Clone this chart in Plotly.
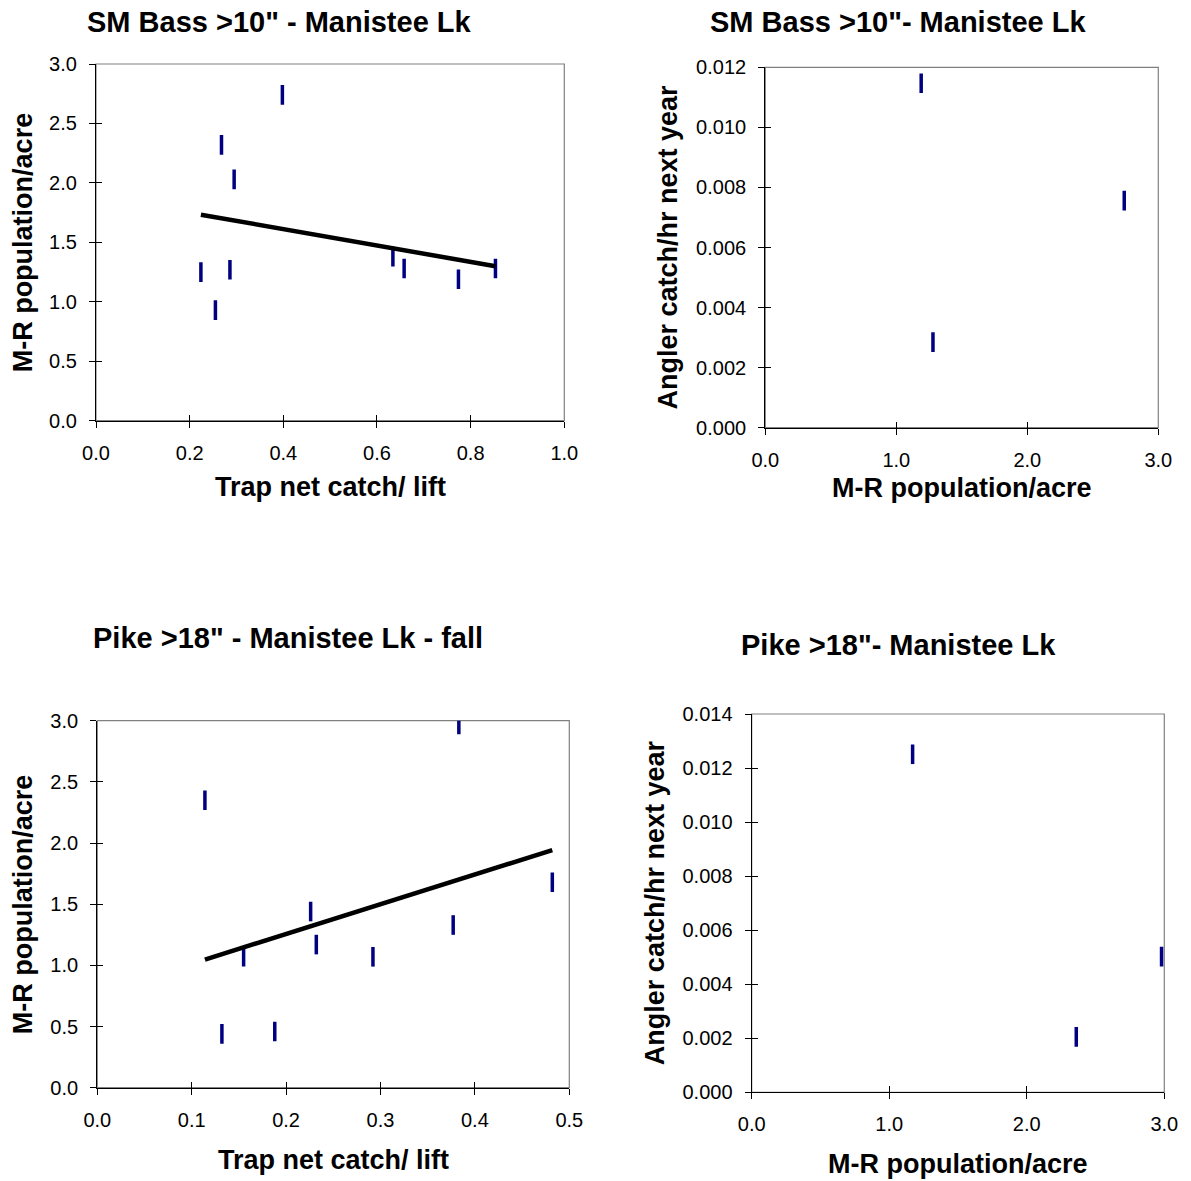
import numpy as np
import plotly.graph_objects as go

# ---- data ----------------------------------------------------------------
# Smallmouth bass >10": trap net catch per lift vs mark-recapture population
bass_trap_catch = [0.398, 0.268, 0.295, 0.224, 0.286, 0.255, 0.634, 0.658, 0.774, 0.853]
bass_pop_acre = [2.74, 2.32, 2.03, 1.25, 1.27, 0.93, 1.38, 1.28, 1.19, 1.28]

# Smallmouth bass >10": population vs angler catch rate the following year
bass_pop_next = [1.19, 1.28, 2.74]
bass_angler_next = [0.01147, 0.00285, 0.00756]

# Pike >18" (fall): trap net catch per lift vs mark-recapture population
pike_trap_catch = [0.383, 0.114, 0.482, 0.226, 0.377, 0.232, 0.155, 0.292, 0.132, 0.188]
pike_pop_acre = [2.97, 2.35, 1.68, 1.44, 1.33, 1.17, 1.07, 1.07, 0.44, 0.46]

# Pike >18": population vs angler catch rate the following year
pike_pop_next = [1.17, 2.36, 2.98]
pike_angler_next = [0.01251, 0.00205, 0.00502]

titles = [
    'SM Bass >10" - Manistee Lk',
    'SM Bass >10"- Manistee Lk',
    'Pike >18" - Manistee Lk - fall',
    'Pike >18"- Manistee Lk',
]
x_titles = ["Trap net catch/ lift", "M-R population/acre",
            "Trap net catch/ lift", "M-R population/acre"]
y_titles = ["M-R population/acre", "Angler catch/hr next year",
            "M-R population/acre", "Angler catch/hr next year"]

# ---- page geometry (pixels) ----------------------------------------------
W, H = 1191, 1181
FONT = "Liberation Sans, Arial, Helvetica, sans-serif"
NAVY = "#000080"

# plot-area boxes: left, right, top, bottom
boxes = [
    (96.0, 564.3, 64.0, 420.7),
    (765.3, 1158.3, 67.3, 427.7),
    (97.3, 569.3, 720.7, 1087.7),
    (751.7, 1164.3, 714.0, 1092.3),
]
axis_specs = [
    # x range, x dtick, x format, y range, y dtick, y format
    ([0, 1.0], 0.2, ".1f", [0, 3.0], 0.5, ".1f"),
    ([0, 3.0], 1.0, ".1f", [0, 0.012], 0.002, ".3f"),
    ([0, 0.5], 0.1, ".1f", [0, 3.0], 0.5, ".1f"),
    ([0, 3.0], 1.0, ".1f", [0, 0.014], 0.002, ".3f"),
]
title_pos = [(279, 22), (898, 22), (288, 638), (898, 645)]
xtitle_y = [487, 488, 1160, 1164]
ytitle_x = [23, 668, 23, 655]

panels = [
    (bass_trap_catch, bass_pop_acre, True),
    (bass_pop_next, bass_angler_next, False),
    (pike_trap_catch, pike_pop_acre, True),
    (pike_pop_next, pike_angler_next, False),
]


def px_x(v):
    return v / W


def px_y(v):
    return 1 - v / H


fig = go.Figure()
layout = {}
annotations = []
shapes = []

for i, ((xs, ys, trend), box, spec) in enumerate(zip(panels, boxes, axis_specs)):
    n = i + 1
    m = i + 5  # overlay axes carrying the inside half of each tick
    xa = "x" if n == 1 else f"x{n}"
    ya = "y" if n == 1 else f"y{n}"
    left, right, top, bottom = box
    xr, xdt, xfmt, yr, ydt, yfmt = spec

    common = dict(showgrid=False, zeroline=False, fixedrange=True,
                  automargin=False, tick0=0, tickcolor="black",
                  tickwidth=1.3, ticklen=6)
    layout[f"xaxis{n}"] = dict(
        domain=[px_x(left), px_x(right)], range=xr, dtick=xdt, tickformat=xfmt,
        anchor=ya, showline=True, linecolor="black", linewidth=1.3,
        ticks="outside", ticklabelstandoff=8,
        tickfont=dict(family=FONT, size=20, color="black"), **common)
    layout[f"yaxis{n}"] = dict(
        domain=[px_y(bottom), px_y(top)], range=yr, dtick=ydt, tickformat=yfmt,
        anchor=xa, showline=True, linecolor="black", linewidth=1.3,
        ticks="outside", ticklabelstandoff=8,
        tickfont=dict(family=FONT, size=20, color="black"), **common)
    layout[f"xaxis{m}"] = dict(
        overlaying=xa, anchor=f"y{m}", range=xr, dtick=xdt, ticks="inside",
        showticklabels=False, showline=False, **common)
    layout[f"yaxis{m}"] = dict(
        overlaying=ya, anchor=f"x{m}", range=yr, dtick=ydt, ticks="inside",
        showticklabels=False, showline=False, **common)
    fig.add_trace(go.Scatter(x=[None], y=[None], xaxis=f"x{m}", yaxis=f"y{m}",
                             showlegend=False, hoverinfo="skip"))

    # grey plot-area frame behind the black axes
    shapes.append(dict(type="rect", xref=f"{xa} domain", yref=f"{ya} domain",
                       x0=0, x1=1, y0=0, y1=1, layer="below",
                       line=dict(color="#808080", width=1.2)))

    fig.add_trace(go.Scatter(
        x=xs, y=ys, mode="markers", xaxis=xa, yaxis=ya, showlegend=False,
        marker=dict(symbol="line-ns", size=14, color=NAVY,
                    line=dict(color=NAVY, width=3.5)),
    ))

    if trend:
        slope, intercept = np.polyfit(xs, ys, 1)
        tx = np.array([min(xs), max(xs)])
        fig.add_trace(go.Scatter(
            x=tx, y=slope * tx + intercept, mode="lines", xaxis=xa, yaxis=ya,
            showlegend=False, line=dict(color="black", width=4.5),
        ))

    tx_c, ty_c = title_pos[i]
    annotations.append(dict(
        text=f"<b>{titles[i]}</b>", x=px_x(tx_c), y=px_y(ty_c),
        xref="paper", yref="paper", showarrow=False,
        xanchor="center", yanchor="middle",
        font=dict(family=FONT, size=29, color="black")))
    annotations.append(dict(
        text=f"<b>{x_titles[i]}</b>", x=px_x((left + right) / 2),
        y=px_y(xtitle_y[i]), xref="paper", yref="paper", showarrow=False,
        xanchor="center", yanchor="middle",
        font=dict(family=FONT, size=27, color="black")))
    annotations.append(dict(
        text=f"<b>{y_titles[i]}</b>", x=px_x(ytitle_x[i]),
        y=px_y((top + bottom) / 2), xref="paper", yref="paper",
        showarrow=False, textangle=-90, xanchor="center", yanchor="middle",
        font=dict(family=FONT, size=27, color="black")))

fig.update_layout(
    template="none",
    width=W, height=H, margin=dict(l=0, r=0, t=0, b=0, pad=0),
    paper_bgcolor="white", plot_bgcolor="white",
    annotations=annotations, shapes=shapes, showlegend=False,
    font=dict(family=FONT, color="black"),
    **layout,
)

fig.write_html("out.html", config={"displayModeBar": False})
